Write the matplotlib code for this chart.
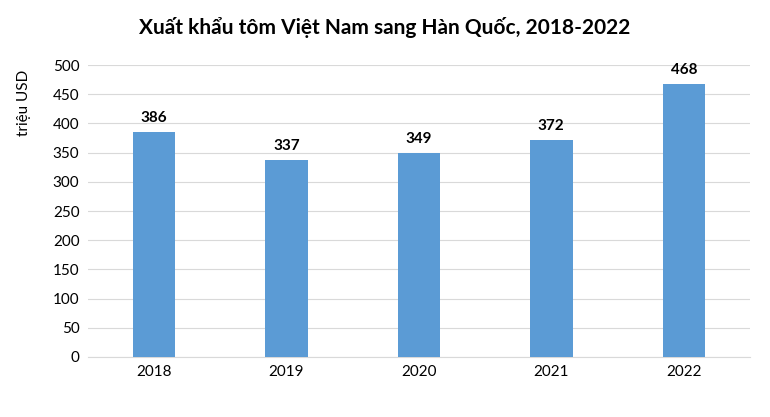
import matplotlib
matplotlib.use("Agg")
import matplotlib.pyplot as plt

years = ["2018", "2019", "2020", "2021", "2022"]
values = [386, 337, 349, 372, 468]

plt.rcParams['font.family'] = ['Lato', 'DejaVu Sans']
fig = plt.figure(figsize=(7.7, 4.17), dpi=100)
ax = fig.add_axes([0.114, 0.144, 0.86, 0.70])
x = range(len(years))
bars = ax.bar(x, values, width=0.32, color="#5B9BD5", zorder=3)
for xi, v in zip(x, values):
    ax.text(xi, v + 12, str(v), ha="center", va="bottom", fontsize=11, fontweight="bold")
ax.set_xlim(-0.5, 4.5)
ax.set_ylim(0, 500)
ax.set_yticks(range(0, 501, 50))
ax.set_xticks(list(x))
ax.set_xticklabels(years)
ax.tick_params(axis="both", length=0, labelsize=11, pad=6)
ax.grid(axis="y", color="#D9D9D9", linewidth=0.8, zorder=0)
for s in ["top", "right", "left"]:
    ax.spines[s].set_visible(False)
ax.spines["bottom"].set_color("#D9D9D9")
ax.set_ylabel("triệu USD", fontsize=11)
ax.yaxis.set_label_coords(-0.085, 0.87)
fig.text(0.5, 0.935, "Xuất khẩu tôm Việt Nam sang Hàn Quốc, 2018-2022", ha="center", va="center",
         fontsize=15, fontweight="bold")
fig.savefig("out.png", dpi=100)
